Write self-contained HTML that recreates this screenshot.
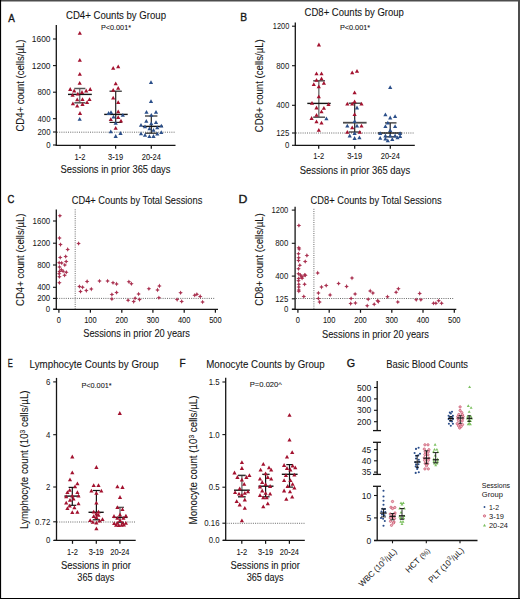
<!DOCTYPE html><html><head><meta charset="utf-8"><style>html,body{margin:0;padding:0;background:#fff;width:520px;height:599px;overflow:hidden}svg{display:block}text{stroke:#151515;stroke-width:0.08px}text[font-size="11.8"]{stroke-width:0.35px}text[font-size="8.5"],text[font-size="8.3"],text[font-size="7.5"]{stroke:none}text[font-size="8.8"]{stroke-width:0.08px}</style></head><body>
<svg width="520" height="599" viewBox="0 0 520 599" font-family="Liberation Sans, sans-serif">
<defs><path id="tri" d="M0,-2.1 L2.1,1.7 L-2.1,1.7 Z"/><path id="star" d="M0,-2.3 L0.75,-0.75 L2.3,0 L0.75,0.75 L0,2.3 L-0.75,0.75 L-2.3,0 L-0.75,-0.75 Z"/><path id="gtri" d="M0,-1.5 L1.5,1.1 L-1.5,1.1 Z"/></defs>
<rect x="0" y="0" width="520" height="599" fill="#fff"/>
<text x="0" y="0" font-size="11.8" fill="#151515" transform="translate(8.13 21.6) scale(0.84 1)">A</text>
<text x="66" y="19.4" font-size="10.4" text-anchor="start" fill="#151515" textLength="100" lengthAdjust="spacingAndGlyphs" >CD4+ Counts by Group</text>
<text x="101" y="30.2" font-size="7.6" text-anchor="start" fill="#151515" textLength="30" lengthAdjust="spacingAndGlyphs" >P&lt;0.001*</text>
<text x="0" y="0" font-size="10.2" text-anchor="middle" fill="#151515" textLength="92" lengthAdjust="spacingAndGlyphs" transform="translate(23.6 85.6) rotate(-90)">CD4+ count (cells/µL)</text>
<line x1="56.3" y1="25" x2="56.3" y2="145.5" stroke="#151515" stroke-width="1.3" />
<line x1="53" y1="39" x2="56.3" y2="39" stroke="#151515" stroke-width="1.1" />
<text x="50.5" y="41.93" font-size="8.5" text-anchor="end" fill="#151515" textLength="18.7" lengthAdjust="spacingAndGlyphs" >1600</text>
<line x1="53" y1="65.6" x2="56.3" y2="65.6" stroke="#151515" stroke-width="1.1" />
<text x="50.5" y="68.53" font-size="8.5" text-anchor="end" fill="#151515" textLength="18.7" lengthAdjust="spacingAndGlyphs" >1200</text>
<line x1="53" y1="92.2" x2="56.3" y2="92.2" stroke="#151515" stroke-width="1.1" />
<text x="50.5" y="95.13" font-size="8.5" text-anchor="end" fill="#151515" textLength="13.05" lengthAdjust="spacingAndGlyphs" >800</text>
<line x1="53" y1="118.7" x2="56.3" y2="118.7" stroke="#151515" stroke-width="1.1" />
<text x="50.5" y="121.63" font-size="8.5" text-anchor="end" fill="#151515" textLength="13.05" lengthAdjust="spacingAndGlyphs" >400</text>
<line x1="53" y1="132" x2="56.3" y2="132" stroke="#151515" stroke-width="1.1" />
<text x="50.5" y="134.93" font-size="8.5" text-anchor="end" fill="#151515" textLength="13.05" lengthAdjust="spacingAndGlyphs" >200</text>
<line x1="53" y1="145" x2="56.3" y2="145" stroke="#151515" stroke-width="1.1" />
<text x="50.5" y="147.93" font-size="8.5" text-anchor="end" fill="#151515" textLength="4.35" lengthAdjust="spacingAndGlyphs" >0</text>
<line x1="57" y1="132.2" x2="175.6" y2="132.2" stroke="#5a5a5a" stroke-width="0.9" stroke-dasharray="1 1.2" />
<line x1="55.7" y1="145.3" x2="175.5" y2="145.3" stroke="#151515" stroke-width="1.3" />
<line x1="80" y1="145.3" x2="80" y2="148.7" stroke="#151515" stroke-width="1.25" />
<text x="80" y="159.54" font-size="8.8" text-anchor="middle" fill="#151515" textLength="10.81" lengthAdjust="spacingAndGlyphs" >1-2</text>
<line x1="115.6" y1="145.3" x2="115.6" y2="148.7" stroke="#151515" stroke-width="1.25" />
<text x="115.6" y="159.54" font-size="8.8" text-anchor="middle" fill="#151515" textLength="14.97" lengthAdjust="spacingAndGlyphs" >3-19</text>
<line x1="151.3" y1="145.3" x2="151.3" y2="148.7" stroke="#151515" stroke-width="1.25" />
<text x="151.3" y="159.54" font-size="8.8" text-anchor="middle" fill="#151515" textLength="19.13" lengthAdjust="spacingAndGlyphs" >20-24</text>
<text x="115.5" y="173.3" font-size="10.2" text-anchor="middle" fill="#151515" textLength="110" lengthAdjust="spacingAndGlyphs" >Sessions in prior 365 days</text>
<line x1="79.7" y1="88.5" x2="79.7" y2="102.8" stroke="#7a7a7a" stroke-width="1.5" />
<line x1="74.3" y1="88.5" x2="85.4" y2="88.5" stroke="#555" stroke-width="1.5" />
<line x1="74.3" y1="102.8" x2="85.4" y2="102.8" stroke="#555" stroke-width="1.5" />
<line x1="68" y1="94.4" x2="91.8" y2="94.4" stroke="#151515" stroke-width="1.4" />
<line x1="115.7" y1="91.2" x2="115.7" y2="122.4" stroke="#222" stroke-width="1.2" />
<line x1="109.5" y1="91.2" x2="121.8" y2="91.2" stroke="#222" stroke-width="1.2" />
<line x1="109.5" y1="122.4" x2="121.8" y2="122.4" stroke="#222" stroke-width="1.2" />
<line x1="104.2" y1="114.4" x2="127.7" y2="114.4" stroke="#151515" stroke-width="1.4" />
<line x1="151.3" y1="116" x2="151.3" y2="133.2" stroke="#222" stroke-width="1.2" />
<line x1="145" y1="116" x2="157.4" y2="116" stroke="#222" stroke-width="1.2" />
<line x1="145" y1="133.2" x2="157.4" y2="133.2" stroke="#222" stroke-width="1.2" />
<line x1="142.5" y1="126.4" x2="163" y2="126.4" stroke="#151515" stroke-width="1.4" />
<use href="#tri" x="79.8" y="33" fill="#a3122f"/>
<use href="#tri" x="79.8" y="60" fill="#a3122f"/>
<use href="#tri" x="79.8" y="74" fill="#a3122f"/>
<use href="#tri" x="79.7" y="83" fill="#a3122f"/>
<use href="#tri" x="70.2" y="89.2" fill="#a3122f"/>
<use href="#tri" x="74.2" y="90.7" fill="#a3122f"/>
<use href="#tri" x="86.2" y="90.7" fill="#a3122f"/>
<use href="#tri" x="90.2" y="89.2" fill="#a3122f"/>
<use href="#tri" x="72.6" y="95" fill="#a3122f"/>
<use href="#tri" x="77.8" y="93.8" fill="#a3122f"/>
<use href="#tri" x="82" y="92.2" fill="#a3122f"/>
<use href="#tri" x="77.2" y="99.6" fill="#a3122f"/>
<use href="#tri" x="82.5" y="99.3" fill="#a3122f"/>
<use href="#tri" x="89.5" y="99.3" fill="#a3122f"/>
<use href="#tri" x="72.9" y="103.6" fill="#a3122f"/>
<use href="#tri" x="77.2" y="105.8" fill="#a3122f"/>
<use href="#tri" x="82.5" y="104.2" fill="#a3122f"/>
<use href="#tri" x="87.1" y="102.4" fill="#a3122f"/>
<use href="#tri" x="80" y="113.2" fill="#a3122f"/>
<use href="#tri" x="113.2" y="68" fill="#a3122f"/>
<use href="#tri" x="118.2" y="66.5" fill="#a3122f"/>
<use href="#tri" x="115.7" y="83.5" fill="#a3122f"/>
<use href="#tri" x="118.2" y="88" fill="#a3122f"/>
<use href="#tri" x="113.2" y="90" fill="#a3122f"/>
<use href="#tri" x="113.2" y="97.8" fill="#a3122f"/>
<use href="#tri" x="118.2" y="102.4" fill="#a3122f"/>
<use href="#tri" x="118.2" y="111.6" fill="#a3122f"/>
<use href="#tri" x="110.8" y="119.3" fill="#a3122f"/>
<use href="#tri" x="118.2" y="117.3" fill="#a3122f"/>
<use href="#tri" x="121" y="120.8" fill="#a3122f"/>
<use href="#tri" x="115.7" y="128" fill="#a3122f"/>
<use href="#tri" x="79.7" y="119" fill="#2b4f8a"/>
<use href="#tri" x="108.6" y="113.2" fill="#2b4f8a"/>
<use href="#tri" x="111" y="112.4" fill="#2b4f8a"/>
<use href="#tri" x="113.5" y="116.8" fill="#2b4f8a"/>
<use href="#tri" x="122.8" y="115" fill="#2b4f8a"/>
<use href="#tri" x="115.7" y="123" fill="#2b4f8a"/>
<use href="#tri" x="110.8" y="131.6" fill="#2b4f8a"/>
<use href="#tri" x="120.5" y="133.2" fill="#2b4f8a"/>
<use href="#tri" x="115.7" y="136.2" fill="#2b4f8a"/>
<use href="#tri" x="151" y="82.3" fill="#2b4f8a"/>
<use href="#tri" x="151" y="101.3" fill="#2b4f8a"/>
<use href="#tri" x="146.5" y="112" fill="#2b4f8a"/>
<use href="#tri" x="156" y="112" fill="#2b4f8a"/>
<use href="#tri" x="151.3" y="115" fill="#2b4f8a"/>
<use href="#tri" x="146.3" y="121" fill="#2b4f8a"/>
<use href="#tri" x="156" y="122.4" fill="#2b4f8a"/>
<use href="#tri" x="151.3" y="123.6" fill="#2b4f8a"/>
<use href="#tri" x="141" y="125" fill="#2b4f8a"/>
<use href="#tri" x="145" y="126.6" fill="#2b4f8a"/>
<use href="#tri" x="161.3" y="125.8" fill="#2b4f8a"/>
<use href="#tri" x="157.3" y="127.6" fill="#2b4f8a"/>
<use href="#tri" x="149.5" y="128.6" fill="#2b4f8a"/>
<use href="#tri" x="153.5" y="130" fill="#2b4f8a"/>
<use href="#tri" x="141" y="133.6" fill="#2b4f8a"/>
<use href="#tri" x="145" y="135" fill="#2b4f8a"/>
<use href="#tri" x="149.4" y="136.4" fill="#2b4f8a"/>
<use href="#tri" x="153.5" y="136.2" fill="#2b4f8a"/>
<use href="#tri" x="157.3" y="133.9" fill="#2b4f8a"/>
<use href="#tri" x="161.3" y="132.4" fill="#2b4f8a"/>
<text x="0" y="0" font-size="11.8" fill="#151515" transform="translate(240.3 21.4) scale(0.87 1)">B</text>
<text x="304.6" y="16.4" font-size="10.4" text-anchor="start" fill="#151515" textLength="99.3" lengthAdjust="spacingAndGlyphs" >CD8+ Counts by Group</text>
<text x="339.9" y="30.3" font-size="7.6" text-anchor="start" fill="#151515" textLength="30.2" lengthAdjust="spacingAndGlyphs" >P&lt;0.001*</text>
<text x="0" y="0" font-size="10.2" text-anchor="middle" fill="#151515" textLength="93" lengthAdjust="spacingAndGlyphs" transform="translate(263 85.7) rotate(-90)">CD8+ count (cells/µL)</text>
<line x1="295.3" y1="22.4" x2="295.3" y2="145.5" stroke="#151515" stroke-width="1.3" />
<line x1="292" y1="26.2" x2="295.3" y2="26.2" stroke="#151515" stroke-width="1.1" />
<text x="289.3" y="29.13" font-size="8.5" text-anchor="end" fill="#151515" textLength="16.5" lengthAdjust="spacingAndGlyphs" >1200</text>
<line x1="292" y1="65.7" x2="295.3" y2="65.7" stroke="#151515" stroke-width="1.1" />
<text x="289.3" y="68.63" font-size="8.5" text-anchor="end" fill="#151515" textLength="13.05" lengthAdjust="spacingAndGlyphs" >800</text>
<line x1="292" y1="105.3" x2="295.3" y2="105.3" stroke="#151515" stroke-width="1.1" />
<text x="289.3" y="108.23" font-size="8.5" text-anchor="end" fill="#151515" textLength="13.05" lengthAdjust="spacingAndGlyphs" >400</text>
<line x1="292" y1="133" x2="295.3" y2="133" stroke="#151515" stroke-width="1.1" />
<text x="289.3" y="135.93" font-size="8.5" text-anchor="end" fill="#151515" textLength="13.05" lengthAdjust="spacingAndGlyphs" >125</text>
<line x1="292" y1="145.3" x2="295.3" y2="145.3" stroke="#151515" stroke-width="1.1" />
<text x="289.3" y="148.23" font-size="8.5" text-anchor="end" fill="#151515" textLength="4.35" lengthAdjust="spacingAndGlyphs" >0</text>
<line x1="296" y1="133" x2="414.8" y2="133" stroke="#5a5a5a" stroke-width="0.9" stroke-dasharray="1 1.2" />
<line x1="294.8" y1="145.4" x2="414.8" y2="145.4" stroke="#151515" stroke-width="1.3" />
<line x1="318.7" y1="145.4" x2="318.7" y2="148.8" stroke="#151515" stroke-width="1.25" />
<text x="318.7" y="159.24" font-size="8.8" text-anchor="middle" fill="#151515" textLength="10.81" lengthAdjust="spacingAndGlyphs" >1-2</text>
<line x1="354.7" y1="145.4" x2="354.7" y2="148.8" stroke="#151515" stroke-width="1.25" />
<text x="354.7" y="159.24" font-size="8.8" text-anchor="middle" fill="#151515" textLength="14.97" lengthAdjust="spacingAndGlyphs" >3-19</text>
<line x1="390.3" y1="145.4" x2="390.3" y2="148.8" stroke="#151515" stroke-width="1.25" />
<text x="390.3" y="159.24" font-size="8.8" text-anchor="middle" fill="#151515" textLength="19.13" lengthAdjust="spacingAndGlyphs" >20-24</text>
<text x="355" y="173.8" font-size="10.2" text-anchor="middle" fill="#151515" textLength="110.5" lengthAdjust="spacingAndGlyphs" >Sessions in prior 365 days</text>
<line x1="318.8" y1="80.8" x2="318.8" y2="117.2" stroke="#7a7a7a" stroke-width="1.5" />
<line x1="313.2" y1="80.8" x2="325" y2="80.8" stroke="#555" stroke-width="1.5" />
<line x1="313.2" y1="117.2" x2="325" y2="117.2" stroke="#555" stroke-width="1.5" />
<line x1="307.3" y1="103.4" x2="330.7" y2="103.4" stroke="#151515" stroke-width="1.4" />
<line x1="354.7" y1="103.2" x2="354.7" y2="132" stroke="#222" stroke-width="1.2" />
<line x1="348.7" y1="103.2" x2="361" y2="103.2" stroke="#222" stroke-width="1.2" />
<line x1="348.7" y1="132" x2="361" y2="132" stroke="#222" stroke-width="1.2" />
<line x1="343" y1="122.7" x2="366.6" y2="122.7" stroke="#4a4a4a" stroke-width="1.8" />
<line x1="390.2" y1="122.9" x2="390.2" y2="136.8" stroke="#222" stroke-width="1.2" />
<line x1="385" y1="122.9" x2="396.5" y2="122.9" stroke="#222" stroke-width="1.2" />
<line x1="385" y1="136.8" x2="396.5" y2="136.8" stroke="#222" stroke-width="1.2" />
<line x1="378" y1="133" x2="401.8" y2="133" stroke="#151515" stroke-width="1.4" />
<use href="#tri" x="318.9" y="44.7" fill="#a3122f"/>
<use href="#tri" x="316.5" y="73.5" fill="#a3122f"/>
<use href="#tri" x="321.5" y="73.5" fill="#a3122f"/>
<use href="#tri" x="316.5" y="80" fill="#a3122f"/>
<use href="#tri" x="321.5" y="78.5" fill="#a3122f"/>
<use href="#tri" x="313.8" y="84.3" fill="#a3122f"/>
<use href="#tri" x="323.9" y="83" fill="#a3122f"/>
<use href="#tri" x="318.8" y="86.5" fill="#a3122f"/>
<use href="#tri" x="318.8" y="96.5" fill="#a3122f"/>
<use href="#tri" x="312" y="103" fill="#a3122f"/>
<use href="#tri" x="328.5" y="104.3" fill="#a3122f"/>
<use href="#tri" x="316.5" y="107.7" fill="#a3122f"/>
<use href="#tri" x="323.9" y="108" fill="#a3122f"/>
<use href="#tri" x="321.5" y="111.5" fill="#a3122f"/>
<use href="#tri" x="316.5" y="115" fill="#a3122f"/>
<use href="#tri" x="311.6" y="118.2" fill="#a3122f"/>
<use href="#tri" x="316.5" y="121.5" fill="#a3122f"/>
<use href="#tri" x="321.5" y="122.8" fill="#a3122f"/>
<use href="#tri" x="318.8" y="130" fill="#a3122f"/>
<use href="#tri" x="352.2" y="72.6" fill="#a3122f"/>
<use href="#tri" x="357" y="71" fill="#a3122f"/>
<use href="#tri" x="354.6" y="92.5" fill="#a3122f"/>
<use href="#tri" x="347.3" y="103.9" fill="#a3122f"/>
<use href="#tri" x="352.2" y="103.9" fill="#a3122f"/>
<use href="#tri" x="354.6" y="101.6" fill="#a3122f"/>
<use href="#tri" x="361.5" y="103.9" fill="#a3122f"/>
<use href="#tri" x="354.6" y="114.3" fill="#a3122f"/>
<use href="#tri" x="352.2" y="127.6" fill="#a3122f"/>
<use href="#tri" x="361.5" y="125.9" fill="#a3122f"/>
<use href="#tri" x="347.3" y="132" fill="#a3122f"/>
<use href="#tri" x="359.8" y="132" fill="#a3122f"/>
<use href="#tri" x="326.4" y="118.5" fill="#2b4f8a"/>
<use href="#tri" x="357" y="107.7" fill="#2b4f8a"/>
<use href="#tri" x="354.6" y="121.2" fill="#2b4f8a"/>
<use href="#tri" x="347.3" y="125.9" fill="#2b4f8a"/>
<use href="#tri" x="357" y="125.9" fill="#2b4f8a"/>
<use href="#tri" x="354.6" y="133.3" fill="#2b4f8a"/>
<use href="#tri" x="349.7" y="135.7" fill="#2b4f8a"/>
<use href="#tri" x="354.6" y="138.2" fill="#2b4f8a"/>
<use href="#tri" x="359.4" y="137.5" fill="#2b4f8a"/>
<use href="#tri" x="390.2" y="87.3" fill="#2b4f8a"/>
<use href="#tri" x="385.4" y="114.6" fill="#2b4f8a"/>
<use href="#tri" x="390.2" y="117.7" fill="#2b4f8a"/>
<use href="#tri" x="395.1" y="116.3" fill="#2b4f8a"/>
<use href="#tri" x="387.8" y="122.9" fill="#2b4f8a"/>
<use href="#tri" x="385.4" y="126.4" fill="#2b4f8a"/>
<use href="#tri" x="395.1" y="126.4" fill="#2b4f8a"/>
<use href="#tri" x="390.2" y="130.2" fill="#2b4f8a"/>
<use href="#tri" x="380.2" y="133.3" fill="#2b4f8a"/>
<use href="#tri" x="400.1" y="133.3" fill="#2b4f8a"/>
<use href="#tri" x="385.4" y="135.7" fill="#2b4f8a"/>
<use href="#tri" x="390.2" y="135.7" fill="#2b4f8a"/>
<use href="#tri" x="395.1" y="135.7" fill="#2b4f8a"/>
<use href="#tri" x="380.2" y="138" fill="#2b4f8a"/>
<use href="#tri" x="385.4" y="138.8" fill="#2b4f8a"/>
<use href="#tri" x="387.8" y="140.6" fill="#2b4f8a"/>
<use href="#tri" x="392.3" y="139.2" fill="#2b4f8a"/>
<use href="#tri" x="397.5" y="137.5" fill="#2b4f8a"/>
<use href="#tri" x="400.1" y="136.2" fill="#2b4f8a"/>
<text x="0" y="0" font-size="11.8" fill="#151515" transform="translate(7.58 203.3) scale(0.8 1)">C</text>
<text x="71.8" y="204.4" font-size="10.4" text-anchor="start" fill="#151515" textLength="130.5" lengthAdjust="spacingAndGlyphs" >CD4+ Counts by Total Sessions</text>
<text x="0" y="0" font-size="10.2" text-anchor="middle" fill="#151515" textLength="92.4" lengthAdjust="spacingAndGlyphs" transform="translate(24.2 259.8) rotate(-90)">CD4+ count (cells/µL)</text>
<line x1="56.3" y1="209.5" x2="56.3" y2="309.4" stroke="#151515" stroke-width="1.3" />
<line x1="53" y1="221" x2="56.3" y2="221" stroke="#151515" stroke-width="1.1" />
<text x="50.2" y="223.93" font-size="8.5" text-anchor="end" fill="#151515" textLength="17.6" lengthAdjust="spacingAndGlyphs" >1600</text>
<line x1="53" y1="243.2" x2="56.3" y2="243.2" stroke="#151515" stroke-width="1.1" />
<text x="50.2" y="246.13" font-size="8.5" text-anchor="end" fill="#151515" textLength="17.6" lengthAdjust="spacingAndGlyphs" >1200</text>
<line x1="53" y1="265" x2="56.3" y2="265" stroke="#151515" stroke-width="1.1" />
<text x="50.2" y="267.93" font-size="8.5" text-anchor="end" fill="#151515" textLength="13.05" lengthAdjust="spacingAndGlyphs" >800</text>
<line x1="53" y1="287.3" x2="56.3" y2="287.3" stroke="#151515" stroke-width="1.1" />
<text x="50.2" y="290.23" font-size="8.5" text-anchor="end" fill="#151515" textLength="13.05" lengthAdjust="spacingAndGlyphs" >400</text>
<line x1="53" y1="298.4" x2="56.3" y2="298.4" stroke="#151515" stroke-width="1.1" />
<text x="50.2" y="301.33" font-size="8.5" text-anchor="end" fill="#151515" textLength="13.05" lengthAdjust="spacingAndGlyphs" >200</text>
<line x1="53" y1="309.2" x2="56.3" y2="309.2" stroke="#151515" stroke-width="1.1" />
<text x="50.2" y="312.13" font-size="8.5" text-anchor="end" fill="#151515" textLength="4.35" lengthAdjust="spacingAndGlyphs" >0</text>
<line x1="75.2" y1="209.3" x2="75.2" y2="309" stroke="#5a5a5a" stroke-width="0.9" stroke-dasharray="1 1.2" />
<line x1="57" y1="298.4" x2="215.2" y2="298.4" stroke="#5a5a5a" stroke-width="0.9" stroke-dasharray="1 1.2" />
<line x1="53.5" y1="309.3" x2="218" y2="309.3" stroke="#151515" stroke-width="1.3" />
<line x1="58.9" y1="309.3" x2="58.9" y2="312.7" stroke="#151515" stroke-width="1.25" />
<text x="58.9" y="323.24" font-size="8.8" text-anchor="middle" fill="#151515" textLength="4.16" lengthAdjust="spacingAndGlyphs" >0</text>
<line x1="90.4" y1="309.3" x2="90.4" y2="312.7" stroke="#151515" stroke-width="1.25" />
<text x="90.4" y="323.24" font-size="8.8" text-anchor="middle" fill="#151515" textLength="12.48" lengthAdjust="spacingAndGlyphs" >100</text>
<line x1="121.8" y1="309.3" x2="121.8" y2="312.7" stroke="#151515" stroke-width="1.25" />
<text x="121.8" y="323.24" font-size="8.8" text-anchor="middle" fill="#151515" textLength="12.48" lengthAdjust="spacingAndGlyphs" >200</text>
<line x1="152.9" y1="309.3" x2="152.9" y2="312.7" stroke="#151515" stroke-width="1.25" />
<text x="152.9" y="323.24" font-size="8.8" text-anchor="middle" fill="#151515" textLength="12.48" lengthAdjust="spacingAndGlyphs" >300</text>
<line x1="184.2" y1="309.3" x2="184.2" y2="312.7" stroke="#151515" stroke-width="1.25" />
<text x="184.2" y="323.24" font-size="8.8" text-anchor="middle" fill="#151515" textLength="12.48" lengthAdjust="spacingAndGlyphs" >400</text>
<line x1="215.4" y1="309.3" x2="215.4" y2="312.7" stroke="#151515" stroke-width="1.25" />
<text x="215.4" y="323.24" font-size="8.8" text-anchor="middle" fill="#151515" textLength="12.48" lengthAdjust="spacingAndGlyphs" >500</text>
<text x="136.6" y="337" font-size="10.2" text-anchor="middle" fill="#151515" textLength="106.7" lengthAdjust="spacingAndGlyphs" >Sessions in prior 20 years</text>
<use href="#star" x="59.9" y="215.8" fill="#aa3251"/>
<use href="#star" x="59.5" y="238.1" fill="#aa3251"/>
<use href="#star" x="60.5" y="244.6" fill="#aa3251"/>
<use href="#star" x="78.6" y="243.5" fill="#aa3251"/>
<use href="#star" x="67.7" y="249.4" fill="#aa3251"/>
<use href="#star" x="60.2" y="257.5" fill="#aa3251"/>
<use href="#star" x="65.7" y="256.5" fill="#aa3251"/>
<use href="#star" x="66.2" y="261.5" fill="#aa3251"/>
<use href="#star" x="59.2" y="262.7" fill="#aa3251"/>
<use href="#star" x="61.7" y="263" fill="#aa3251"/>
<use href="#star" x="64.8" y="265" fill="#aa3251"/>
<use href="#star" x="59.5" y="267" fill="#aa3251"/>
<use href="#star" x="61.3" y="269.8" fill="#aa3251"/>
<use href="#star" x="59.5" y="271.4" fill="#aa3251"/>
<use href="#star" x="63.1" y="271.2" fill="#aa3251"/>
<use href="#star" x="66.3" y="272.3" fill="#aa3251"/>
<use href="#star" x="59.2" y="273.8" fill="#aa3251"/>
<use href="#star" x="64.6" y="275.2" fill="#aa3251"/>
<use href="#star" x="59.4" y="276.8" fill="#aa3251"/>
<use href="#star" x="59.4" y="282.7" fill="#aa3251"/>
<use href="#star" x="87.1" y="281.4" fill="#aa3251"/>
<use href="#star" x="79.4" y="286.5" fill="#aa3251"/>
<use href="#star" x="82.6" y="287.3" fill="#aa3251"/>
<use href="#star" x="91.3" y="289.1" fill="#aa3251"/>
<use href="#star" x="80.5" y="291.5" fill="#aa3251"/>
<use href="#star" x="86.3" y="290.6" fill="#aa3251"/>
<use href="#star" x="99.5" y="281" fill="#aa3251"/>
<use href="#star" x="107.6" y="281" fill="#aa3251"/>
<use href="#star" x="113" y="282.8" fill="#aa3251"/>
<use href="#star" x="116.6" y="283.9" fill="#aa3251"/>
<use href="#star" x="111.9" y="294.5" fill="#aa3251"/>
<use href="#star" x="116.6" y="292.5" fill="#aa3251"/>
<use href="#star" x="111.9" y="298.9" fill="#aa3251"/>
<use href="#star" x="128.9" y="281.8" fill="#aa3251"/>
<use href="#star" x="131.4" y="283.7" fill="#aa3251"/>
<use href="#star" x="128.1" y="300.3" fill="#aa3251"/>
<use href="#star" x="133.7" y="301.6" fill="#aa3251"/>
<use href="#star" x="135.1" y="298.3" fill="#aa3251"/>
<use href="#star" x="138.6" y="294" fill="#aa3251"/>
<use href="#star" x="139.5" y="299.6" fill="#aa3251"/>
<use href="#star" x="148.9" y="288.8" fill="#aa3251"/>
<use href="#star" x="159.4" y="285.9" fill="#aa3251"/>
<use href="#star" x="157.5" y="289.9" fill="#aa3251"/>
<use href="#star" x="158.9" y="297.7" fill="#aa3251"/>
<use href="#star" x="180.6" y="292.8" fill="#aa3251"/>
<use href="#star" x="177.1" y="299.6" fill="#aa3251"/>
<use href="#star" x="181.7" y="301.4" fill="#aa3251"/>
<use href="#star" x="194.7" y="295.2" fill="#aa3251"/>
<use href="#star" x="196.9" y="294.2" fill="#aa3251"/>
<use href="#star" x="200.2" y="296.4" fill="#aa3251"/>
<use href="#star" x="202.6" y="302" fill="#aa3251"/>
<text x="0" y="0" font-size="11.8" fill="#151515" transform="translate(238.54 202.7) scale(1.04 1)">D</text>
<text x="310.6" y="204.4" font-size="10.4" text-anchor="start" fill="#151515" textLength="131" lengthAdjust="spacingAndGlyphs" >CD8+ Counts by Total Sessions</text>
<text x="0" y="0" font-size="10.2" text-anchor="middle" fill="#151515" textLength="92.5" lengthAdjust="spacingAndGlyphs" transform="translate(263.1 259.5) rotate(-90)">CD8+ count (cells/µL)</text>
<line x1="295.1" y1="206.8" x2="295.1" y2="309.5" stroke="#151515" stroke-width="1.3" />
<line x1="291.8" y1="210.1" x2="295.1" y2="210.1" stroke="#151515" stroke-width="1.1" />
<text x="288.3" y="213.03" font-size="8.5" text-anchor="end" fill="#151515" textLength="16.8" lengthAdjust="spacingAndGlyphs" >1200</text>
<line x1="291.8" y1="243.3" x2="295.1" y2="243.3" stroke="#151515" stroke-width="1.1" />
<text x="288.3" y="246.23" font-size="8.5" text-anchor="end" fill="#151515" textLength="13.05" lengthAdjust="spacingAndGlyphs" >800</text>
<line x1="291.8" y1="276.1" x2="295.1" y2="276.1" stroke="#151515" stroke-width="1.1" />
<text x="288.3" y="279.03" font-size="8.5" text-anchor="end" fill="#151515" textLength="13.05" lengthAdjust="spacingAndGlyphs" >400</text>
<line x1="291.8" y1="298.8" x2="295.1" y2="298.8" stroke="#151515" stroke-width="1.1" />
<text x="288.3" y="301.73" font-size="8.5" text-anchor="end" fill="#151515" textLength="13.05" lengthAdjust="spacingAndGlyphs" >125</text>
<line x1="291.8" y1="309.2" x2="295.1" y2="309.2" stroke="#151515" stroke-width="1.1" />
<text x="288.3" y="312.13" font-size="8.5" text-anchor="end" fill="#151515" textLength="4.35" lengthAdjust="spacingAndGlyphs" >0</text>
<line x1="313.9" y1="208.8" x2="313.9" y2="309" stroke="#5a5a5a" stroke-width="0.9" stroke-dasharray="1 1.2" />
<line x1="296" y1="298.5" x2="454.3" y2="298.5" stroke="#5a5a5a" stroke-width="0.9" stroke-dasharray="1 1.2" />
<line x1="292" y1="309.4" x2="456.3" y2="309.4" stroke="#151515" stroke-width="1.3" />
<line x1="297.9" y1="309.4" x2="297.9" y2="312.8" stroke="#151515" stroke-width="1.25" />
<text x="297.9" y="323.24" font-size="8.8" text-anchor="middle" fill="#151515" textLength="4.16" lengthAdjust="spacingAndGlyphs" >0</text>
<line x1="329.2" y1="309.4" x2="329.2" y2="312.8" stroke="#151515" stroke-width="1.25" />
<text x="329.2" y="323.24" font-size="8.8" text-anchor="middle" fill="#151515" textLength="12.48" lengthAdjust="spacingAndGlyphs" >100</text>
<line x1="360.5" y1="309.4" x2="360.5" y2="312.8" stroke="#151515" stroke-width="1.25" />
<text x="360.5" y="323.24" font-size="8.8" text-anchor="middle" fill="#151515" textLength="12.48" lengthAdjust="spacingAndGlyphs" >200</text>
<line x1="391.8" y1="309.4" x2="391.8" y2="312.8" stroke="#151515" stroke-width="1.25" />
<text x="391.8" y="323.24" font-size="8.8" text-anchor="middle" fill="#151515" textLength="12.48" lengthAdjust="spacingAndGlyphs" >300</text>
<line x1="423" y1="309.4" x2="423" y2="312.8" stroke="#151515" stroke-width="1.25" />
<text x="423" y="323.24" font-size="8.8" text-anchor="middle" fill="#151515" textLength="12.48" lengthAdjust="spacingAndGlyphs" >400</text>
<line x1="454.3" y1="309.4" x2="454.3" y2="312.8" stroke="#151515" stroke-width="1.25" />
<text x="454.3" y="323.24" font-size="8.8" text-anchor="middle" fill="#151515" textLength="12.48" lengthAdjust="spacingAndGlyphs" >500</text>
<text x="375.5" y="338.1" font-size="10.2" text-anchor="middle" fill="#151515" textLength="107" lengthAdjust="spacingAndGlyphs" >Sessions in prior 20 years</text>
<use href="#star" x="298.9" y="225.5" fill="#aa3251"/>
<use href="#star" x="298.8" y="247.7" fill="#aa3251"/>
<use href="#star" x="299.2" y="249.1" fill="#aa3251"/>
<use href="#star" x="298.5" y="253.7" fill="#aa3251"/>
<use href="#star" x="306.9" y="255.4" fill="#aa3251"/>
<use href="#star" x="298.7" y="257.8" fill="#aa3251"/>
<use href="#star" x="298.5" y="260.6" fill="#aa3251"/>
<use href="#star" x="305.2" y="261.5" fill="#aa3251"/>
<use href="#star" x="299.8" y="265.2" fill="#aa3251"/>
<use href="#star" x="298.5" y="268.8" fill="#aa3251"/>
<use href="#star" x="317.7" y="272.9" fill="#aa3251"/>
<use href="#star" x="298.5" y="273.8" fill="#aa3251"/>
<use href="#star" x="300.4" y="275" fill="#aa3251"/>
<use href="#star" x="304.6" y="275" fill="#aa3251"/>
<use href="#star" x="301.5" y="276.9" fill="#aa3251"/>
<use href="#star" x="298.7" y="278.5" fill="#aa3251"/>
<use href="#star" x="305.4" y="275.2" fill="#aa3251"/>
<use href="#star" x="302.1" y="276.7" fill="#aa3251"/>
<use href="#star" x="302.1" y="278.3" fill="#aa3251"/>
<use href="#star" x="298.5" y="280.8" fill="#aa3251"/>
<use href="#star" x="298.8" y="284.2" fill="#aa3251"/>
<use href="#star" x="304.6" y="284.2" fill="#aa3251"/>
<use href="#star" x="298.8" y="287.1" fill="#aa3251"/>
<use href="#star" x="298.8" y="290" fill="#aa3251"/>
<use href="#star" x="298.8" y="291.3" fill="#aa3251"/>
<use href="#star" x="303.8" y="296.5" fill="#aa3251"/>
<use href="#star" x="321.5" y="287.1" fill="#aa3251"/>
<use href="#star" x="318.4" y="293.1" fill="#aa3251"/>
<use href="#star" x="318.4" y="298.4" fill="#aa3251"/>
<use href="#star" x="319.6" y="302.1" fill="#aa3251"/>
<use href="#star" x="326.2" y="285.5" fill="#aa3251"/>
<use href="#star" x="330.1" y="294.9" fill="#aa3251"/>
<use href="#star" x="338.6" y="283.5" fill="#aa3251"/>
<use href="#star" x="346.6" y="286.4" fill="#aa3251"/>
<use href="#star" x="352" y="278.1" fill="#aa3251"/>
<use href="#star" x="355.1" y="294" fill="#aa3251"/>
<use href="#star" x="351.1" y="298.5" fill="#aa3251"/>
<use href="#star" x="350.7" y="303.6" fill="#aa3251"/>
<use href="#star" x="355.4" y="303" fill="#aa3251"/>
<use href="#star" x="370.2" y="290.9" fill="#aa3251"/>
<use href="#star" x="372.9" y="293.1" fill="#aa3251"/>
<use href="#star" x="368.2" y="299.3" fill="#aa3251"/>
<use href="#star" x="367.2" y="305.7" fill="#aa3251"/>
<use href="#star" x="374.2" y="304.3" fill="#aa3251"/>
<use href="#star" x="377.6" y="300.7" fill="#aa3251"/>
<use href="#star" x="378.3" y="301.6" fill="#aa3251"/>
<use href="#star" x="387.5" y="296.8" fill="#aa3251"/>
<use href="#star" x="396.1" y="292.2" fill="#aa3251"/>
<use href="#star" x="398.4" y="288.7" fill="#aa3251"/>
<use href="#star" x="397.8" y="302" fill="#aa3251"/>
<use href="#star" x="416.2" y="299.8" fill="#aa3251"/>
<use href="#star" x="419.7" y="293.4" fill="#aa3251"/>
<use href="#star" x="420.9" y="299.8" fill="#aa3251"/>
<use href="#star" x="433.5" y="303.2" fill="#aa3251"/>
<use href="#star" x="435.9" y="303.2" fill="#aa3251"/>
<use href="#star" x="438.7" y="300.8" fill="#aa3251"/>
<use href="#star" x="441.6" y="303.2" fill="#aa3251"/>
<text x="0" y="0" font-size="11.8" fill="#151515" transform="translate(7.83 367) scale(0.64 1)">E</text>
<text x="29.6" y="367.5" font-size="10.4" text-anchor="start" fill="#151515" textLength="129" lengthAdjust="spacingAndGlyphs" >Lymphocyte Counts by Group</text>
<text x="81.4" y="387.6" font-size="7.6" text-anchor="start" fill="#151515" textLength="30.2" lengthAdjust="spacingAndGlyphs" >P&lt;0.001*</text>
<text x="0" y="0" font-size="10.2" text-anchor="middle" fill="#151515" textLength="138.6" lengthAdjust="spacingAndGlyphs" transform="translate(28.2 459.7) rotate(-90)">Lymphocyte count (10<tspan font-size="7" dy="-3.6">3</tspan><tspan dy="3.6"> cells/µL)</tspan></text>
<line x1="56.5" y1="377.9" x2="56.5" y2="540.6" stroke="#151515" stroke-width="1.3" />
<line x1="53.2" y1="381.9" x2="56.5" y2="381.9" stroke="#151515" stroke-width="1.1" />
<text x="50.3" y="384.83" font-size="8.5" text-anchor="end" fill="#151515" textLength="4.35" lengthAdjust="spacingAndGlyphs" >6</text>
<line x1="53.2" y1="434.7" x2="56.5" y2="434.7" stroke="#151515" stroke-width="1.1" />
<text x="50.3" y="437.63" font-size="8.5" text-anchor="end" fill="#151515" textLength="4.35" lengthAdjust="spacingAndGlyphs" >4</text>
<line x1="53.2" y1="487" x2="56.5" y2="487" stroke="#151515" stroke-width="1.1" />
<text x="50.3" y="489.93" font-size="8.5" text-anchor="end" fill="#151515" textLength="4.35" lengthAdjust="spacingAndGlyphs" >2</text>
<line x1="53.2" y1="521.8" x2="56.5" y2="521.8" stroke="#151515" stroke-width="1.1" />
<text x="50.3" y="524.73" font-size="8.5" text-anchor="end" fill="#151515" textLength="15.22" lengthAdjust="spacingAndGlyphs" >0.72</text>
<line x1="53.2" y1="540.4" x2="56.5" y2="540.4" stroke="#151515" stroke-width="1.1" />
<text x="50.3" y="543.33" font-size="8.5" text-anchor="end" fill="#151515" textLength="4.35" lengthAdjust="spacingAndGlyphs" >0</text>
<line x1="57" y1="522" x2="136" y2="522" stroke="#5a5a5a" stroke-width="0.9" stroke-dasharray="1 1.2" />
<line x1="54" y1="540.4" x2="135.7" y2="540.4" stroke="#151515" stroke-width="1.3" />
<line x1="72.5" y1="540.4" x2="72.5" y2="543.8" stroke="#151515" stroke-width="1.25" />
<text x="72.5" y="555.04" font-size="8.8" text-anchor="middle" fill="#151515" textLength="10.81" lengthAdjust="spacingAndGlyphs" >1-2</text>
<line x1="96.3" y1="540.4" x2="96.3" y2="543.8" stroke="#151515" stroke-width="1.25" />
<text x="96.3" y="555.04" font-size="8.8" text-anchor="middle" fill="#151515" textLength="14.97" lengthAdjust="spacingAndGlyphs" >3-19</text>
<line x1="119.9" y1="540.4" x2="119.9" y2="543.8" stroke="#151515" stroke-width="1.25" />
<text x="119.9" y="555.04" font-size="8.8" text-anchor="middle" fill="#151515" textLength="19.13" lengthAdjust="spacingAndGlyphs" >20-24</text>
<text x="95.9" y="569.2" font-size="10.2" text-anchor="middle" fill="#151515" textLength="69.8" lengthAdjust="spacingAndGlyphs" >Sessions in prior</text>
<text x="95.9" y="581.3" font-size="10.2" text-anchor="middle" fill="#151515" textLength="37.1" lengthAdjust="spacingAndGlyphs" >365 days</text>
<line x1="72.3" y1="487.4" x2="72.3" y2="505.3" stroke="#151515" stroke-width="1.2" />
<line x1="68.6" y1="487.4" x2="76.2" y2="487.4" stroke="#151515" stroke-width="1.2" />
<line x1="68.6" y1="505.3" x2="76.2" y2="505.3" stroke="#151515" stroke-width="1.2" />
<line x1="64.4" y1="496.1" x2="79.7" y2="496.1" stroke="#151515" stroke-width="1.4" />
<line x1="96.4" y1="490.5" x2="96.4" y2="519.8" stroke="#151515" stroke-width="1.2" />
<line x1="92.8" y1="490.5" x2="99.9" y2="490.5" stroke="#151515" stroke-width="1.2" />
<line x1="92.8" y1="519.8" x2="99.9" y2="519.8" stroke="#151515" stroke-width="1.2" />
<line x1="88.5" y1="512.3" x2="103.7" y2="512.3" stroke="#151515" stroke-width="1.4" />
<line x1="120" y1="507.3" x2="120" y2="522.5" stroke="#555" stroke-width="1.2" />
<line x1="116.5" y1="507.3" x2="124" y2="507.3" stroke="#444" stroke-width="1.2" />
<line x1="116.5" y1="522.5" x2="124" y2="522.5" stroke="#444" stroke-width="1.2" />
<line x1="112.8" y1="517.4" x2="127.5" y2="517.4" stroke="#151515" stroke-width="1.4" />
<use href="#tri" x="72.3" y="456.7" fill="#a3122f"/>
<use href="#tri" x="72.3" y="472.5" fill="#a3122f"/>
<use href="#tri" x="70" y="479.5" fill="#a3122f"/>
<use href="#tri" x="77.4" y="483.5" fill="#a3122f"/>
<use href="#tri" x="75" y="486.5" fill="#a3122f"/>
<use href="#tri" x="69.7" y="490" fill="#a3122f"/>
<use href="#tri" x="67.4" y="492.3" fill="#a3122f"/>
<use href="#tri" x="77.4" y="492.3" fill="#a3122f"/>
<use href="#tri" x="72.3" y="495.8" fill="#a3122f"/>
<use href="#tri" x="78.5" y="495.8" fill="#a3122f"/>
<use href="#tri" x="66.2" y="496.5" fill="#a3122f"/>
<use href="#tri" x="70" y="500" fill="#a3122f"/>
<use href="#tri" x="73.5" y="498.8" fill="#a3122f"/>
<use href="#tri" x="66.2" y="502.8" fill="#a3122f"/>
<use href="#tri" x="78.5" y="503.5" fill="#a3122f"/>
<use href="#tri" x="69.7" y="505.8" fill="#a3122f"/>
<use href="#tri" x="67.4" y="508.4" fill="#a3122f"/>
<use href="#tri" x="74.4" y="507.5" fill="#a3122f"/>
<use href="#tri" x="72.3" y="512.3" fill="#a3122f"/>
<use href="#tri" x="77.4" y="512" fill="#a3122f"/>
<use href="#tri" x="96.4" y="467.2" fill="#a3122f"/>
<use href="#tri" x="93.7" y="485.3" fill="#a3122f"/>
<use href="#tri" x="98.5" y="485.3" fill="#a3122f"/>
<use href="#tri" x="91.4" y="490.9" fill="#a3122f"/>
<use href="#tri" x="101.3" y="490.9" fill="#a3122f"/>
<use href="#tri" x="96.4" y="493" fill="#a3122f"/>
<use href="#tri" x="96.4" y="502.8" fill="#a3122f"/>
<use href="#tri" x="93.7" y="511.9" fill="#a3122f"/>
<use href="#tri" x="98.5" y="511.9" fill="#a3122f"/>
<use href="#tri" x="96.4" y="513.7" fill="#a3122f"/>
<use href="#tri" x="93.7" y="516.3" fill="#a3122f"/>
<use href="#tri" x="98.5" y="515.1" fill="#a3122f"/>
<use href="#tri" x="96.4" y="517.2" fill="#a3122f"/>
<use href="#tri" x="90.2" y="520.4" fill="#a3122f"/>
<use href="#tri" x="102.5" y="519.3" fill="#a3122f"/>
<use href="#tri" x="99.5" y="520.7" fill="#a3122f"/>
<use href="#tri" x="92.8" y="522.1" fill="#a3122f"/>
<use href="#tri" x="96.4" y="522.8" fill="#a3122f"/>
<use href="#tri" x="96.4" y="528.6" fill="#a3122f"/>
<use href="#tri" x="119.8" y="413.2" fill="#a3122f"/>
<use href="#tri" x="117.4" y="486.6" fill="#a3122f"/>
<use href="#tri" x="122.5" y="487.2" fill="#a3122f"/>
<use href="#tri" x="120" y="497.2" fill="#a3122f"/>
<use href="#tri" x="117.4" y="507.3" fill="#a3122f"/>
<use href="#tri" x="122.5" y="509.4" fill="#a3122f"/>
<use href="#tri" x="120" y="514.7" fill="#a3122f"/>
<use href="#tri" x="114" y="516.2" fill="#a3122f"/>
<use href="#tri" x="125.9" y="515.8" fill="#a3122f"/>
<use href="#tri" x="117.4" y="518.1" fill="#a3122f"/>
<use href="#tri" x="123.4" y="518.1" fill="#a3122f"/>
<use href="#tri" x="120" y="520.4" fill="#a3122f"/>
<use href="#tri" x="114.2" y="523.3" fill="#a3122f"/>
<use href="#tri" x="117.4" y="523.1" fill="#a3122f"/>
<use href="#tri" x="122.5" y="522.9" fill="#a3122f"/>
<use href="#tri" x="125.9" y="523.1" fill="#a3122f"/>
<use href="#tri" x="116.1" y="525" fill="#a3122f"/>
<use href="#tri" x="118.8" y="525.4" fill="#a3122f"/>
<use href="#tri" x="121.6" y="525.1" fill="#a3122f"/>
<use href="#tri" x="123.9" y="524.8" fill="#a3122f"/>
<text x="0" y="0" font-size="11.8" fill="#151515" transform="translate(179.53 366.9) scale(0.85 1)">F</text>
<text x="206.2" y="367.7" font-size="10.4" text-anchor="start" fill="#151515" textLength="118.5" lengthAdjust="spacingAndGlyphs" >Monocyte Counts by Group</text>
<text x="249.8" y="387.2" font-size="7.6" text-anchor="start" fill="#151515" textLength="32.1" lengthAdjust="spacingAndGlyphs" >P=0.020^</text>
<text x="0" y="0" font-size="10.2" text-anchor="middle" fill="#151515" textLength="129" lengthAdjust="spacingAndGlyphs" transform="translate(197.2 460) rotate(-90)">Monocyte count (10<tspan font-size="7" dy="-3.6">3</tspan><tspan dy="3.6"> cells/µL)</tspan></text>
<line x1="225.7" y1="377.7" x2="225.7" y2="540.5" stroke="#151515" stroke-width="1.3" />
<line x1="222.4" y1="382" x2="225.7" y2="382" stroke="#151515" stroke-width="1.1" />
<text x="219.5" y="384.93" font-size="8.5" text-anchor="end" fill="#151515" textLength="10.87" lengthAdjust="spacingAndGlyphs" >1.5</text>
<line x1="222.4" y1="434.6" x2="225.7" y2="434.6" stroke="#151515" stroke-width="1.1" />
<text x="219.5" y="437.53" font-size="8.5" text-anchor="end" fill="#151515" textLength="10.87" lengthAdjust="spacingAndGlyphs" >1.0</text>
<line x1="222.4" y1="487.2" x2="225.7" y2="487.2" stroke="#151515" stroke-width="1.1" />
<text x="219.5" y="490.13" font-size="8.5" text-anchor="end" fill="#151515" textLength="10.87" lengthAdjust="spacingAndGlyphs" >0.5</text>
<line x1="222.4" y1="523.2" x2="225.7" y2="523.2" stroke="#151515" stroke-width="1.1" />
<text x="219.5" y="526.13" font-size="8.5" text-anchor="end" fill="#151515" textLength="15.22" lengthAdjust="spacingAndGlyphs" >0.16</text>
<line x1="222.4" y1="540.3" x2="225.7" y2="540.3" stroke="#151515" stroke-width="1.1" />
<text x="219.5" y="543.23" font-size="8.5" text-anchor="end" fill="#151515" textLength="10.87" lengthAdjust="spacingAndGlyphs" >0.0</text>
<line x1="226.5" y1="523.3" x2="305" y2="523.3" stroke="#5a5a5a" stroke-width="0.9" stroke-dasharray="1 1.2" />
<line x1="222.9" y1="540.4" x2="304.8" y2="540.4" stroke="#151515" stroke-width="1.3" />
<line x1="241.8" y1="540.4" x2="241.8" y2="543.8" stroke="#151515" stroke-width="1.25" />
<text x="241.8" y="555.04" font-size="8.8" text-anchor="middle" fill="#151515" textLength="10.81" lengthAdjust="spacingAndGlyphs" >1-2</text>
<line x1="265.6" y1="540.4" x2="265.6" y2="543.8" stroke="#151515" stroke-width="1.25" />
<text x="265.6" y="555.04" font-size="8.8" text-anchor="middle" fill="#151515" textLength="14.97" lengthAdjust="spacingAndGlyphs" >3-19</text>
<line x1="289.4" y1="540.4" x2="289.4" y2="543.8" stroke="#151515" stroke-width="1.25" />
<text x="289.4" y="555.04" font-size="8.8" text-anchor="middle" fill="#151515" textLength="19.13" lengthAdjust="spacingAndGlyphs" >20-24</text>
<text x="265.2" y="569.2" font-size="10.2" text-anchor="middle" fill="#151515" textLength="69.2" lengthAdjust="spacingAndGlyphs" >Sessions in prior</text>
<text x="265.2" y="581.2" font-size="10.2" text-anchor="middle" fill="#151515" textLength="37" lengthAdjust="spacingAndGlyphs" >365 days</text>
<line x1="241.9" y1="475.4" x2="241.9" y2="496.8" stroke="#7a7a7a" stroke-width="1.5" />
<line x1="238" y1="475.4" x2="245.7" y2="475.4" stroke="#333" stroke-width="1.5" />
<line x1="238" y1="496.8" x2="245.7" y2="496.8" stroke="#333" stroke-width="1.5" />
<line x1="234" y1="490.2" x2="249.8" y2="490.2" stroke="#151515" stroke-width="1.4" />
<line x1="265.6" y1="474.3" x2="265.6" y2="496.8" stroke="#151515" stroke-width="1.2" />
<line x1="262.2" y1="474.3" x2="269.6" y2="474.3" stroke="#151515" stroke-width="1.2" />
<line x1="262.2" y1="496.8" x2="269.6" y2="496.8" stroke="#151515" stroke-width="1.2" />
<line x1="258.4" y1="486.2" x2="273.5" y2="486.2" stroke="#151515" stroke-width="1.4" />
<line x1="289.5" y1="464.6" x2="289.5" y2="487.1" stroke="#151515" stroke-width="1.2" />
<line x1="286.3" y1="464.6" x2="293.1" y2="464.6" stroke="#151515" stroke-width="1.2" />
<line x1="286.3" y1="487.1" x2="293.1" y2="487.1" stroke="#151515" stroke-width="1.2" />
<line x1="281.8" y1="474.3" x2="297.6" y2="474.3" stroke="#151515" stroke-width="1.4" />
<use href="#tri" x="241.9" y="462.3" fill="#a3122f"/>
<use href="#tri" x="241.9" y="468.2" fill="#a3122f"/>
<use href="#tri" x="234.5" y="472.7" fill="#a3122f"/>
<use href="#tri" x="237.4" y="477.2" fill="#a3122f"/>
<use href="#tri" x="246.4" y="477.2" fill="#a3122f"/>
<use href="#tri" x="249.4" y="475.4" fill="#a3122f"/>
<use href="#tri" x="241.9" y="479.9" fill="#a3122f"/>
<use href="#tri" x="244.2" y="484" fill="#a3122f"/>
<use href="#tri" x="239.7" y="488.5" fill="#a3122f"/>
<use href="#tri" x="235.1" y="492.3" fill="#a3122f"/>
<use href="#tri" x="239" y="493.9" fill="#a3122f"/>
<use href="#tri" x="244.8" y="493" fill="#a3122f"/>
<use href="#tri" x="248" y="491.6" fill="#a3122f"/>
<use href="#tri" x="241.9" y="495.2" fill="#a3122f"/>
<use href="#tri" x="244.8" y="499.7" fill="#a3122f"/>
<use href="#tri" x="236.7" y="501.3" fill="#a3122f"/>
<use href="#tri" x="239.7" y="504.7" fill="#a3122f"/>
<use href="#tri" x="244.8" y="508.1" fill="#a3122f"/>
<use href="#tri" x="241.9" y="520.5" fill="#a3122f"/>
<use href="#tri" x="263.3" y="464.1" fill="#a3122f"/>
<use href="#tri" x="269" y="467.5" fill="#a3122f"/>
<use href="#tri" x="260.6" y="469.8" fill="#a3122f"/>
<use href="#tri" x="271.2" y="469.8" fill="#a3122f"/>
<use href="#tri" x="265.6" y="473.6" fill="#a3122f"/>
<use href="#tri" x="260" y="478.8" fill="#a3122f"/>
<use href="#tri" x="267.8" y="477.2" fill="#a3122f"/>
<use href="#tri" x="271.2" y="478.8" fill="#a3122f"/>
<use href="#tri" x="262.2" y="482.2" fill="#a3122f"/>
<use href="#tri" x="265.6" y="484.4" fill="#a3122f"/>
<use href="#tri" x="260" y="486.7" fill="#a3122f"/>
<use href="#tri" x="270.1" y="486.2" fill="#a3122f"/>
<use href="#tri" x="262.2" y="490.7" fill="#a3122f"/>
<use href="#tri" x="265.6" y="493" fill="#a3122f"/>
<use href="#tri" x="260" y="495.2" fill="#a3122f"/>
<use href="#tri" x="270.1" y="493.9" fill="#a3122f"/>
<use href="#tri" x="263.3" y="497.5" fill="#a3122f"/>
<use href="#tri" x="266.7" y="497.5" fill="#a3122f"/>
<use href="#tri" x="267.8" y="503.6" fill="#a3122f"/>
<use href="#tri" x="263.3" y="506.5" fill="#a3122f"/>
<use href="#tri" x="289.5" y="415" fill="#a3122f"/>
<use href="#tri" x="289.5" y="439.8" fill="#a3122f"/>
<use href="#tri" x="292.2" y="452.4" fill="#a3122f"/>
<use href="#tri" x="287" y="456.9" fill="#a3122f"/>
<use href="#tri" x="284.1" y="465.2" fill="#a3122f"/>
<use href="#tri" x="292.6" y="465.9" fill="#a3122f"/>
<use href="#tri" x="287" y="468.2" fill="#a3122f"/>
<use href="#tri" x="295.3" y="467.5" fill="#a3122f"/>
<use href="#tri" x="290.4" y="469.8" fill="#a3122f"/>
<use href="#tri" x="285.9" y="475.4" fill="#a3122f"/>
<use href="#tri" x="294.4" y="474.9" fill="#a3122f"/>
<use href="#tri" x="284.1" y="480.3" fill="#a3122f"/>
<use href="#tri" x="290.4" y="480.3" fill="#a3122f"/>
<use href="#tri" x="292.6" y="484" fill="#a3122f"/>
<use href="#tri" x="287.7" y="486.2" fill="#a3122f"/>
<use href="#tri" x="294.4" y="487.8" fill="#a3122f"/>
<use href="#tri" x="284.1" y="490.7" fill="#a3122f"/>
<use href="#tri" x="290" y="491.6" fill="#a3122f"/>
<use href="#tri" x="286.3" y="499.1" fill="#a3122f"/>
<use href="#tri" x="292.2" y="496.8" fill="#a3122f"/>
<text x="0" y="0" font-size="11.8" fill="#151515" transform="translate(346.71 367.1) scale(0.91 1)">G</text>
<text x="386.2" y="367.7" font-size="10.4" text-anchor="start" fill="#151515" textLength="81.8" lengthAdjust="spacingAndGlyphs" >Basic Blood Counts</text>
<line x1="377.2" y1="381" x2="377.2" y2="430.6" stroke="#151515" stroke-width="1.3" />
<line x1="373" y1="430.6" x2="381" y2="430.6" stroke="#151515" stroke-width="1.3" />
<line x1="373" y1="442.3" x2="381" y2="442.3" stroke="#151515" stroke-width="1.3" />
<line x1="377.2" y1="442.3" x2="377.2" y2="474.4" stroke="#151515" stroke-width="1.3" />
<line x1="373" y1="474.4" x2="381" y2="474.4" stroke="#151515" stroke-width="1.3" />
<line x1="373" y1="486.3" x2="381" y2="486.3" stroke="#151515" stroke-width="1.3" />
<line x1="377.2" y1="486.3" x2="377.2" y2="540.5" stroke="#151515" stroke-width="1.3" />
<line x1="374" y1="387.5" x2="377.2" y2="387.5" stroke="#151515" stroke-width="1.1" />
<text x="371.2" y="390.56" font-size="8.5" text-anchor="end" fill="#151515" >500</text>
<line x1="374" y1="398.9" x2="377.2" y2="398.9" stroke="#151515" stroke-width="1.1" />
<text x="371.2" y="401.96" font-size="8.5" text-anchor="end" fill="#151515" >400</text>
<line x1="374" y1="410.3" x2="377.2" y2="410.3" stroke="#151515" stroke-width="1.1" />
<text x="371.2" y="413.36" font-size="8.5" text-anchor="end" fill="#151515" >300</text>
<line x1="374" y1="421.7" x2="377.2" y2="421.7" stroke="#151515" stroke-width="1.1" />
<text x="371.2" y="424.76" font-size="8.5" text-anchor="end" fill="#151515" >200</text>
<line x1="374" y1="449.6" x2="377.2" y2="449.6" stroke="#151515" stroke-width="1.1" />
<text x="371.2" y="452.66" font-size="8.5" text-anchor="end" fill="#151515" >45</text>
<line x1="374" y1="460.8" x2="377.2" y2="460.8" stroke="#151515" stroke-width="1.1" />
<text x="371.2" y="463.86" font-size="8.5" text-anchor="end" fill="#151515" >40</text>
<line x1="374" y1="472.1" x2="377.2" y2="472.1" stroke="#151515" stroke-width="1.1" />
<text x="371.2" y="475.16" font-size="8.5" text-anchor="end" fill="#151515" >35</text>
<line x1="374" y1="495.5" x2="377.2" y2="495.5" stroke="#151515" stroke-width="1.1" />
<text x="371.2" y="498.56" font-size="8.5" text-anchor="end" fill="#151515" >10</text>
<line x1="374" y1="517.9" x2="377.2" y2="517.9" stroke="#151515" stroke-width="1.1" />
<text x="371.2" y="520.96" font-size="8.5" text-anchor="end" fill="#151515" >5</text>
<line x1="374" y1="540.5" x2="377.2" y2="540.5" stroke="#151515" stroke-width="1.1" />
<text x="371.2" y="543.56" font-size="8.5" text-anchor="end" fill="#151515" >0</text>
<line x1="374" y1="540.5" x2="477.5" y2="540.5" stroke="#151515" stroke-width="1.3" />
<line x1="392.5" y1="540.5" x2="392.5" y2="543.3" stroke="#151515" stroke-width="1.1" />
<line x1="426.3" y1="540.5" x2="426.3" y2="543.3" stroke="#151515" stroke-width="1.1" />
<line x1="460" y1="540.5" x2="460" y2="543.3" stroke="#151515" stroke-width="1.1" />
<text x="0" y="0" font-size="8.3" text-anchor="end" fill="#151515" textLength="50" lengthAdjust="spacingAndGlyphs" transform="translate(397.4 552) rotate(-45)">WBC (10<tspan font-size="6.2" dy="-3.3">3</tspan><tspan dy="3.3">/µL)</tspan></text>
<text x="0" y="0" font-size="8.3" text-anchor="end" fill="#151515" textLength="31" lengthAdjust="spacingAndGlyphs" transform="translate(430.6 551.3) rotate(-45)">HCT <tspan font-size="7.4">(%)</tspan></text>
<text x="0" y="0" font-size="8.3" text-anchor="end" fill="#151515" textLength="46" lengthAdjust="spacingAndGlyphs" transform="translate(464.3 550.8) rotate(-45)">PLT (10<tspan font-size="6.2" dy="-3.3">3</tspan><tspan dy="3.3">/µL)</tspan></text>
<circle cx="383.5" cy="490.8" r="1.05" fill="#2a4d8a"/>
<circle cx="383.5" cy="496.5" r="1.05" fill="#2a4d8a"/>
<circle cx="383.5" cy="500.8" r="1.05" fill="#2a4d8a"/>
<circle cx="383.5" cy="504.7" r="1.05" fill="#2a4d8a"/>
<circle cx="382.6" cy="508.7" r="1.05" fill="#2a4d8a"/>
<circle cx="384.8" cy="509.1" r="1.05" fill="#2a4d8a"/>
<circle cx="381.5" cy="511.5" r="1.05" fill="#2a4d8a"/>
<circle cx="383.5" cy="512.5" r="1.05" fill="#2a4d8a"/>
<circle cx="385.3" cy="512" r="1.05" fill="#2a4d8a"/>
<circle cx="382" cy="514.5" r="1.05" fill="#2a4d8a"/>
<circle cx="384.5" cy="515.2" r="1.05" fill="#2a4d8a"/>
<circle cx="381" cy="518" r="1.05" fill="#2a4d8a"/>
<circle cx="383.1" cy="518.8" r="1.05" fill="#2a4d8a"/>
<circle cx="384.8" cy="521" r="1.05" fill="#2a4d8a"/>
<circle cx="383.5" cy="525.8" r="1.05" fill="#2a4d8a"/>
<circle cx="416" cy="448.9" r="1.05" fill="#2a4d8a"/>
<circle cx="418.6" cy="447.7" r="1.05" fill="#2a4d8a"/>
<circle cx="414.6" cy="453" r="1.05" fill="#2a4d8a"/>
<circle cx="420" cy="453.7" r="1.05" fill="#2a4d8a"/>
<circle cx="416" cy="455.7" r="1.05" fill="#2a4d8a"/>
<circle cx="418.2" cy="455.4" r="1.05" fill="#2a4d8a"/>
<circle cx="416" cy="458.5" r="1.05" fill="#2a4d8a"/>
<circle cx="418.8" cy="459.7" r="1.05" fill="#2a4d8a"/>
<circle cx="415.4" cy="462.2" r="1.05" fill="#2a4d8a"/>
<circle cx="419.1" cy="461.8" r="1.05" fill="#2a4d8a"/>
<circle cx="416" cy="464.6" r="1.05" fill="#2a4d8a"/>
<circle cx="418.5" cy="464.3" r="1.05" fill="#2a4d8a"/>
<circle cx="415.7" cy="466.5" r="1.05" fill="#2a4d8a"/>
<circle cx="417.8" cy="467.4" r="1.05" fill="#2a4d8a"/>
<circle cx="417.2" cy="468.9" r="1.05" fill="#2a4d8a"/>
<circle cx="415.7" cy="472.9" r="1.05" fill="#2a4d8a"/>
<circle cx="418.8" cy="472.3" r="1.05" fill="#2a4d8a"/>
<circle cx="449.8" cy="412.6" r="1.05" fill="#2a4d8a"/>
<circle cx="452" cy="411.7" r="1.05" fill="#2a4d8a"/>
<circle cx="450.8" cy="413.5" r="1.05" fill="#2a4d8a"/>
<circle cx="448.6" cy="415.7" r="1.05" fill="#2a4d8a"/>
<circle cx="452.9" cy="415.7" r="1.05" fill="#2a4d8a"/>
<circle cx="449.5" cy="417.2" r="1.05" fill="#2a4d8a"/>
<circle cx="452.3" cy="417.5" r="1.05" fill="#2a4d8a"/>
<circle cx="448.6" cy="419.1" r="1.05" fill="#2a4d8a"/>
<circle cx="452.9" cy="419.1" r="1.05" fill="#2a4d8a"/>
<circle cx="450.2" cy="420.9" r="1.05" fill="#2a4d8a"/>
<circle cx="452" cy="421.5" r="1.05" fill="#2a4d8a"/>
<circle cx="448.9" cy="423.7" r="1.05" fill="#2a4d8a"/>
<circle cx="452.9" cy="423.7" r="1.05" fill="#2a4d8a"/>
<circle cx="450.8" cy="425.8" r="1.05" fill="#2a4d8a"/>
<circle cx="392.5" cy="501.5" r="1.15" fill="#eeb8c4" stroke="#c9566e" stroke-width="0.75"/>
<circle cx="391" cy="507.3" r="1.15" fill="#eeb8c4" stroke="#c9566e" stroke-width="0.75"/>
<circle cx="392.5" cy="508.5" r="1.15" fill="#eeb8c4" stroke="#c9566e" stroke-width="0.75"/>
<circle cx="394.8" cy="507.5" r="1.15" fill="#eeb8c4" stroke="#c9566e" stroke-width="0.75"/>
<circle cx="390.3" cy="514" r="1.15" fill="#eeb8c4" stroke="#c9566e" stroke-width="0.75"/>
<circle cx="395" cy="513" r="1.15" fill="#eeb8c4" stroke="#c9566e" stroke-width="0.75"/>
<circle cx="394.5" cy="514.5" r="1.15" fill="#eeb8c4" stroke="#c9566e" stroke-width="0.75"/>
<circle cx="390.3" cy="518" r="1.15" fill="#eeb8c4" stroke="#c9566e" stroke-width="0.75"/>
<circle cx="394.5" cy="518.5" r="1.15" fill="#eeb8c4" stroke="#c9566e" stroke-width="0.75"/>
<circle cx="390.5" cy="521.3" r="1.15" fill="#eeb8c4" stroke="#c9566e" stroke-width="0.75"/>
<circle cx="394" cy="522" r="1.15" fill="#eeb8c4" stroke="#c9566e" stroke-width="0.75"/>
<circle cx="393.5" cy="523" r="1.15" fill="#eeb8c4" stroke="#c9566e" stroke-width="0.75"/>
<circle cx="391.5" cy="525.3" r="1.15" fill="#eeb8c4" stroke="#c9566e" stroke-width="0.75"/>
<circle cx="392.4" cy="516.5" r="1.15" fill="#eeb8c4" stroke="#c9566e" stroke-width="0.75"/>
<circle cx="424.9" cy="444.8" r="1.15" fill="#eeb8c4" stroke="#c9566e" stroke-width="0.75"/>
<circle cx="428" cy="444.8" r="1.15" fill="#eeb8c4" stroke="#c9566e" stroke-width="0.75"/>
<circle cx="424.3" cy="449.1" r="1.15" fill="#eeb8c4" stroke="#c9566e" stroke-width="0.75"/>
<circle cx="428.9" cy="449.7" r="1.15" fill="#eeb8c4" stroke="#c9566e" stroke-width="0.75"/>
<circle cx="425.2" cy="451.7" r="1.15" fill="#eeb8c4" stroke="#c9566e" stroke-width="0.75"/>
<circle cx="428.3" cy="451.7" r="1.15" fill="#eeb8c4" stroke="#c9566e" stroke-width="0.75"/>
<circle cx="424.9" cy="454.5" r="1.15" fill="#eeb8c4" stroke="#c9566e" stroke-width="0.75"/>
<circle cx="428" cy="454.8" r="1.15" fill="#eeb8c4" stroke="#c9566e" stroke-width="0.75"/>
<circle cx="424.3" cy="457.8" r="1.15" fill="#eeb8c4" stroke="#c9566e" stroke-width="0.75"/>
<circle cx="428.9" cy="458.2" r="1.15" fill="#eeb8c4" stroke="#c9566e" stroke-width="0.75"/>
<circle cx="424.6" cy="460.3" r="1.15" fill="#eeb8c4" stroke="#c9566e" stroke-width="0.75"/>
<circle cx="428.3" cy="460.3" r="1.15" fill="#eeb8c4" stroke="#c9566e" stroke-width="0.75"/>
<circle cx="425.2" cy="463.4" r="1.15" fill="#eeb8c4" stroke="#c9566e" stroke-width="0.75"/>
<circle cx="427.7" cy="463.7" r="1.15" fill="#eeb8c4" stroke="#c9566e" stroke-width="0.75"/>
<circle cx="426.5" cy="465.8" r="1.15" fill="#eeb8c4" stroke="#c9566e" stroke-width="0.75"/>
<circle cx="424.9" cy="468.9" r="1.15" fill="#eeb8c4" stroke="#c9566e" stroke-width="0.75"/>
<circle cx="428.3" cy="468.9" r="1.15" fill="#eeb8c4" stroke="#c9566e" stroke-width="0.75"/>
<circle cx="460.1" cy="406.9" r="1.15" fill="#eeb8c4" stroke="#c9566e" stroke-width="0.75"/>
<circle cx="460.1" cy="410.5" r="1.15" fill="#eeb8c4" stroke="#c9566e" stroke-width="0.75"/>
<circle cx="461.8" cy="412.6" r="1.15" fill="#eeb8c4" stroke="#c9566e" stroke-width="0.75"/>
<circle cx="458.8" cy="414.5" r="1.15" fill="#eeb8c4" stroke="#c9566e" stroke-width="0.75"/>
<circle cx="462.5" cy="414.8" r="1.15" fill="#eeb8c4" stroke="#c9566e" stroke-width="0.75"/>
<circle cx="457.8" cy="416.6" r="1.15" fill="#eeb8c4" stroke="#c9566e" stroke-width="0.75"/>
<circle cx="463.1" cy="416.6" r="1.15" fill="#eeb8c4" stroke="#c9566e" stroke-width="0.75"/>
<circle cx="457.8" cy="418.5" r="1.15" fill="#eeb8c4" stroke="#c9566e" stroke-width="0.75"/>
<circle cx="462.8" cy="418.5" r="1.15" fill="#eeb8c4" stroke="#c9566e" stroke-width="0.75"/>
<circle cx="458.5" cy="420.6" r="1.15" fill="#eeb8c4" stroke="#c9566e" stroke-width="0.75"/>
<circle cx="462.2" cy="420.9" r="1.15" fill="#eeb8c4" stroke="#c9566e" stroke-width="0.75"/>
<circle cx="457.2" cy="423.7" r="1.15" fill="#eeb8c4" stroke="#c9566e" stroke-width="0.75"/>
<circle cx="459.4" cy="424.3" r="1.15" fill="#eeb8c4" stroke="#c9566e" stroke-width="0.75"/>
<circle cx="462.5" cy="424.6" r="1.15" fill="#eeb8c4" stroke="#c9566e" stroke-width="0.75"/>
<circle cx="458.5" cy="425.8" r="1.15" fill="#eeb8c4" stroke="#c9566e" stroke-width="0.75"/>
<circle cx="461.2" cy="426.5" r="1.15" fill="#eeb8c4" stroke="#c9566e" stroke-width="0.75"/>
<circle cx="459.7" cy="428" r="1.15" fill="#eeb8c4" stroke="#c9566e" stroke-width="0.75"/>
<use href="#gtri" x="401" y="503" fill="#7cc060"/>
<use href="#gtri" x="403.3" y="503" fill="#7cc060"/>
<use href="#gtri" x="402" y="504.3" fill="#7cc060"/>
<use href="#gtri" x="399.8" y="508.3" fill="#7cc060"/>
<use href="#gtri" x="404.3" y="508.3" fill="#7cc060"/>
<use href="#gtri" x="401" y="512.5" fill="#7cc060"/>
<use href="#gtri" x="399.8" y="516.3" fill="#7cc060"/>
<use href="#gtri" x="404" y="516" fill="#7cc060"/>
<use href="#gtri" x="400.5" y="518" fill="#7cc060"/>
<use href="#gtri" x="403.5" y="518" fill="#7cc060"/>
<use href="#gtri" x="400.8" y="521.6" fill="#7cc060"/>
<use href="#gtri" x="403" y="521.6" fill="#7cc060"/>
<use href="#gtri" x="402" y="524" fill="#7cc060"/>
<use href="#gtri" x="435.1" y="444.6" fill="#7cc060"/>
<use href="#gtri" x="434.5" y="449.5" fill="#7cc060"/>
<use href="#gtri" x="436.9" y="449.5" fill="#7cc060"/>
<use href="#gtri" x="433.5" y="451.7" fill="#7cc060"/>
<use href="#gtri" x="437.8" y="452" fill="#7cc060"/>
<use href="#gtri" x="435.1" y="455.4" fill="#7cc060"/>
<use href="#gtri" x="433.8" y="459.1" fill="#7cc060"/>
<use href="#gtri" x="437.5" y="459.1" fill="#7cc060"/>
<use href="#gtri" x="433.8" y="461.5" fill="#7cc060"/>
<use href="#gtri" x="437.5" y="461.5" fill="#7cc060"/>
<use href="#gtri" x="434.5" y="463.4" fill="#7cc060"/>
<use href="#gtri" x="436.9" y="463.4" fill="#7cc060"/>
<use href="#gtri" x="435.7" y="465.2" fill="#7cc060"/>
<use href="#gtri" x="469.6" y="386.9" fill="#7cc060"/>
<use href="#gtri" x="468.3" y="405.8" fill="#7cc060"/>
<use href="#gtri" x="471.1" y="407.7" fill="#7cc060"/>
<use href="#gtri" x="469.2" y="411.7" fill="#7cc060"/>
<use href="#gtri" x="467.7" y="416.3" fill="#7cc060"/>
<use href="#gtri" x="470.8" y="416.3" fill="#7cc060"/>
<use href="#gtri" x="467.4" y="418.5" fill="#7cc060"/>
<use href="#gtri" x="471.4" y="418.5" fill="#7cc060"/>
<use href="#gtri" x="468.3" y="420.9" fill="#7cc060"/>
<use href="#gtri" x="470.5" y="420.9" fill="#7cc060"/>
<use href="#gtri" x="469.2" y="423.1" fill="#7cc060"/>
<use href="#gtri" x="468.2" y="424.2" fill="#7cc060"/>
<use href="#gtri" x="470.4" y="424.2" fill="#7cc060"/>
<line x1="383.5" y1="508.9" x2="383.5" y2="516.9" stroke="#111" stroke-width="0.9" />
<line x1="381" y1="508.9" x2="386" y2="508.9" stroke="#111" stroke-width="0.9" />
<line x1="381" y1="516.9" x2="386" y2="516.9" stroke="#111" stroke-width="0.9" />
<line x1="379.9" y1="513.1" x2="386.7" y2="513.1" stroke="#111" stroke-width="1.15" />
<line x1="392.5" y1="513.5" x2="392.5" y2="519.8" stroke="#111" stroke-width="0.9" />
<line x1="390.5" y1="513.5" x2="394.5" y2="513.5" stroke="#111" stroke-width="0.9" />
<line x1="390.5" y1="519.8" x2="394.5" y2="519.8" stroke="#111" stroke-width="0.9" />
<line x1="389.3" y1="516.3" x2="395.8" y2="516.3" stroke="#111" stroke-width="1.15" />
<line x1="402" y1="508.5" x2="402" y2="519.3" stroke="#111" stroke-width="0.9" />
<line x1="399.7" y1="508.5" x2="404.3" y2="508.5" stroke="#111" stroke-width="0.9" />
<line x1="399.7" y1="519.3" x2="404.3" y2="519.3" stroke="#111" stroke-width="0.9" />
<line x1="398.9" y1="515.8" x2="405" y2="515.8" stroke="#111" stroke-width="1.15" />
<line x1="417.2" y1="455.7" x2="417.2" y2="467.4" stroke="#111" stroke-width="0.9" />
<line x1="415.9" y1="455.7" x2="418.5" y2="455.7" stroke="#111" stroke-width="0.9" />
<line x1="415.9" y1="467.4" x2="418.5" y2="467.4" stroke="#111" stroke-width="0.9" />
<line x1="414.2" y1="462" x2="420.6" y2="462" stroke="#111" stroke-width="1.15" />
<line x1="426.5" y1="450.8" x2="426.5" y2="463.7" stroke="#111" stroke-width="0.9" />
<line x1="424.7" y1="450.8" x2="428.3" y2="450.8" stroke="#111" stroke-width="0.9" />
<line x1="424.7" y1="463.7" x2="428.3" y2="463.7" stroke="#111" stroke-width="0.9" />
<line x1="423.4" y1="458.2" x2="429.8" y2="458.2" stroke="#111" stroke-width="1.15" />
<line x1="435.7" y1="452.6" x2="435.7" y2="462.8" stroke="#111" stroke-width="0.9" />
<line x1="433.1" y1="452.6" x2="438.3" y2="452.6" stroke="#111" stroke-width="0.9" />
<line x1="433.1" y1="462.8" x2="438.3" y2="462.8" stroke="#111" stroke-width="0.9" />
<line x1="432.9" y1="459.8" x2="438.8" y2="459.8" stroke="#111" stroke-width="1.15" />
<line x1="450.9" y1="416.5" x2="450.9" y2="420.6" stroke="#111" stroke-width="0.9" />
<line x1="449.4" y1="416.5" x2="452.4" y2="416.5" stroke="#111" stroke-width="0.9" />
<line x1="449.4" y1="420.6" x2="452.4" y2="420.6" stroke="#111" stroke-width="0.9" />
<line x1="448" y1="418.5" x2="453.8" y2="418.5" stroke="#111" stroke-width="1.15" />
<line x1="460.3" y1="415.7" x2="460.3" y2="423.3" stroke="#111" stroke-width="0.9" />
<line x1="458.8" y1="415.7" x2="461.8" y2="415.7" stroke="#111" stroke-width="0.9" />
<line x1="458.8" y1="423.3" x2="461.8" y2="423.3" stroke="#111" stroke-width="0.9" />
<line x1="457.2" y1="418" x2="463.7" y2="418" stroke="#111" stroke-width="1.15" />
<line x1="469.2" y1="415.7" x2="469.2" y2="421.4" stroke="#111" stroke-width="0.9" />
<line x1="467.7" y1="415.7" x2="470.7" y2="415.7" stroke="#111" stroke-width="0.9" />
<line x1="467.7" y1="421.4" x2="470.7" y2="421.4" stroke="#111" stroke-width="0.9" />
<line x1="466.8" y1="418.3" x2="472.3" y2="418.3" stroke="#111" stroke-width="1.15" />
<text x="481.8" y="487.5" font-size="7.5" text-anchor="start" fill="#151515" textLength="28.3" lengthAdjust="spacingAndGlyphs" >Sessions</text>
<text x="481.8" y="497.2" font-size="7.5" text-anchor="start" fill="#151515" textLength="21.1" lengthAdjust="spacingAndGlyphs" >Group</text>
<circle cx="484.5" cy="507" r="0.95" fill="#2a4d8a"/>
<circle cx="484.5" cy="515.9" r="1.15" fill="#eeb8c4" stroke="#c9566e" stroke-width="0.75"/>
<use href="#gtri" x="484.5" y="525.3" fill="#7cc060"/>
<text x="489" y="509.6" font-size="7.5" text-anchor="start" fill="#151515" textLength="10" lengthAdjust="spacingAndGlyphs" >1-2</text>
<text x="489" y="518.5" font-size="7.5" text-anchor="start" fill="#151515" textLength="15" lengthAdjust="spacingAndGlyphs" >3-19</text>
<text x="489" y="527.9" font-size="7.5" text-anchor="start" fill="#151515" textLength="18.9" lengthAdjust="spacingAndGlyphs" >20-24</text>
<rect x="0" y="0" width="520" height="1.5" fill="#4d4d4d"/>
<rect x="518" y="0" width="2" height="599" fill="#4d4d4d"/>
<rect x="0" y="0" width="1.1" height="599" fill="#000"/>
<rect x="0" y="598" width="520" height="1" fill="#000"/>
</svg></body></html>
